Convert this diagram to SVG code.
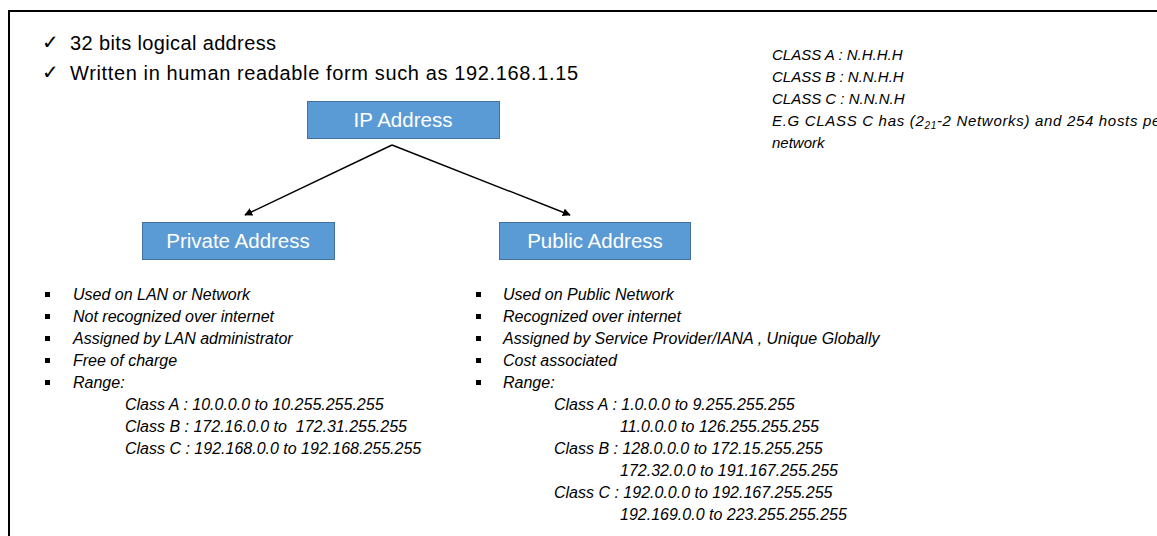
<svg xmlns="http://www.w3.org/2000/svg" width="1157" height="536" viewBox="0 0 1157 536">
  <style>
    .frame { fill: none; stroke: #000; stroke-width: 2; }
    .box { fill: #5B9BD5; stroke: #41719C; stroke-width: 1; }
    .boxlabel { font-family: "Liberation Sans", Arial, sans-serif; font-size: 20.5px; fill: #fff; text-anchor: middle; }
    .head { font-family: "Liberation Sans", Arial, sans-serif; font-size: 20px; fill: #000; }
    .tick { font-family: "DejaVu Sans", sans-serif; font-size: 20px; fill: #000; }
    .note { font-family: "Liberation Sans", Arial, sans-serif; font-size: 15px; font-style: italic; fill: #000; }
    .item { font-family: "Liberation Sans", Arial, sans-serif; font-size: 16px; font-style: italic; fill: #000; }
    .sub { font-size: 10px; }
    .bullet { fill: #000; }
    .link { stroke: #000; stroke-width: 1.4; fill: none; marker-end: url(#arrow); }
  </style>
  <defs>
    <marker id="arrow" viewBox="0 0 10 10" refX="9" refY="5" markerWidth="8" markerHeight="8" orient="auto" markerUnits="userSpaceOnUse">
      <path d="M0,0 L10,5 L0,10 z" fill="#000"/>
    </marker>
  </defs>

  <rect width="1157" height="536" fill="#fff"/>
  <!-- outer frame: top and left edges -->
  <path class="frame" d="M9,536 V11 H1157"/>

  <!-- heading bullets -->
  <g id="intro">
    <text class="tick" x="42" y="49">✓</text>
    <text class="head" x="70" y="50" textLength="206">32 bits logical address</text>
    <text class="tick" x="42" y="79">✓</text>
    <text class="head" x="70" y="80" textLength="508">Written in human readable form such as 192.168.1.15</text>
  </g>

  <!-- class layout notes -->
  <g id="class-notes">
    <text class="note" x="772" y="60">CLASS A : N.H.H.H</text>
    <text class="note" x="772" y="82">CLASS B : N.N.H.H</text>
    <text class="note" x="772" y="104">CLASS C : N.N.N.H</text>
    <text class="note" x="772" y="126" textLength="394">E.G CLASS C has (2<tspan class="sub" dy="3">21</tspan><tspan dy="-3">-2 Networks) and 254 hosts per</tspan></text>
    <text class="note" x="772" y="148">network</text>
  </g>

  <!-- connectors -->
  <g id="connectors">
    <line class="link" x1="392" y1="145" x2="245" y2="215"/>
    <line class="link" x1="392" y1="145" x2="570" y2="215"/>
  </g>

  <g id="ip-address">
    <rect class="box" x="307.5" y="101.5" width="192" height="37"/>
    <text class="boxlabel" x="403" y="127">IP Address</text>
  </g>

  <g id="private-address">
    <rect class="box" x="142.5" y="222.5" width="192" height="37"/>
    <text class="boxlabel" x="238" y="248">Private Address</text>
  </g>

  <g id="public-address">
    <rect class="box" x="499.5" y="222.5" width="191" height="37"/>
    <text class="boxlabel" x="595" y="248">Public Address</text>
  </g>

  <!-- private address details -->
  <g id="private-details">
    <rect class="bullet" x="45" y="292" width="5" height="5"/>
    <rect class="bullet" x="45" y="314" width="5" height="5"/>
    <rect class="bullet" x="45" y="336" width="5" height="5"/>
    <rect class="bullet" x="45" y="358" width="5" height="5"/>
    <rect class="bullet" x="45" y="380" width="5" height="5"/>
    <text class="item" x="73" y="300">Used on LAN or Network</text>
    <text class="item" x="73" y="322">Not recognized over internet</text>
    <text class="item" x="73" y="344">Assigned by LAN administrator</text>
    <text class="item" x="73" y="366">Free of charge</text>
    <text class="item" x="73" y="388">Range:</text>
    <text class="item" x="125" y="410">Class A : 10.0.0.0 to 10.255.255.255</text>
    <text class="item" x="125" y="432" xml:space="preserve">Class B : 172.16.0.0 to  172.31.255.255</text>
    <text class="item" x="125" y="454">Class C : 192.168.0.0 to 192.168.255.255</text>
  </g>

  <!-- public address details -->
  <g id="public-details">
    <rect class="bullet" x="476" y="292" width="5" height="5"/>
    <rect class="bullet" x="476" y="314" width="5" height="5"/>
    <rect class="bullet" x="476" y="336" width="5" height="5"/>
    <rect class="bullet" x="476" y="358" width="5" height="5"/>
    <rect class="bullet" x="476" y="380" width="5" height="5"/>
    <text class="item" x="503" y="300">Used on Public Network</text>
    <text class="item" x="503" y="322">Recognized over internet</text>
    <text class="item" x="503" y="344">Assigned by Service Provider/IANA , Unique Globally</text>
    <text class="item" x="503" y="366">Cost associated</text>
    <text class="item" x="503" y="388">Range:</text>
    <text class="item" x="554" y="410">Class A : 1.0.0.0 to 9.255.255.255</text>
    <text class="item" x="620" y="432">11.0.0.0 to 126.255.255.255</text>
    <text class="item" x="554" y="454">Class B : 128.0.0.0 to 172.15.255.255</text>
    <text class="item" x="620" y="476">172.32.0.0 to 191.167.255.255</text>
    <text class="item" x="554" y="498">Class C : 192.0.0.0 to 192.167.255.255</text>
    <text class="item" x="620" y="520">192.169.0.0 to 223.255.255.255</text>
  </g>
</svg>
